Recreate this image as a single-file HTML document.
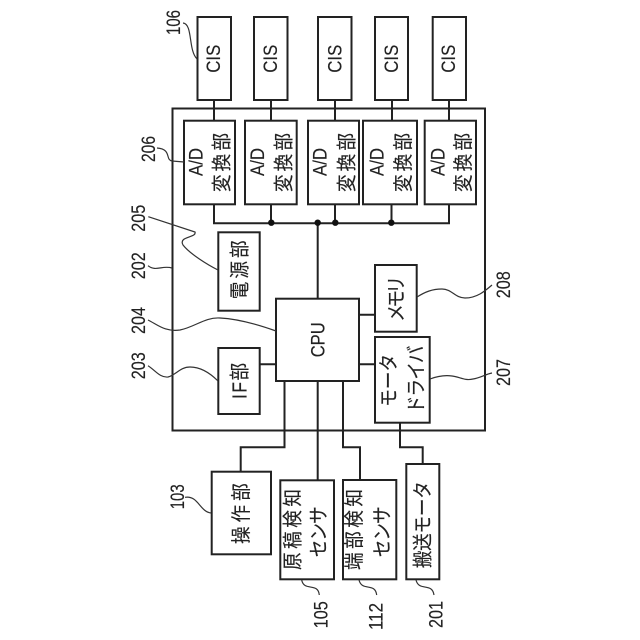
<!DOCTYPE html>
<html><head><meta charset="utf-8"><style>
html,body{margin:0;padding:0;background:#fff;width:640px;height:640px;overflow:hidden}
svg{display:block}
text{font-family:"Liberation Sans","Noto Sans CJK JP",sans-serif;fill:#222;stroke:#222;stroke-width:.15;font-size:19.5px}
.j{font-size:20px}
rect,.l{fill:none;stroke:#222;stroke-width:2}
.w{fill:none;stroke:#333;stroke-width:1.2}
</style></head><body>
<svg width="640" height="640" viewBox="0 0 640 640" xmlns="http://www.w3.org/2000/svg">
<rect x="172.5" y="108.5" width="312.5" height="322"/>
<rect x="197.5" y="17" width="33.5" height="83"/>
<rect x="254" y="17" width="33.5" height="83"/>
<rect x="318" y="17" width="33.5" height="83"/>
<rect x="375" y="17" width="33" height="83"/>
<rect x="432.7" y="17" width="33.3" height="83"/>
<rect x="184" y="120.7" width="51" height="83.6"/>
<rect x="245" y="120.7" width="51.7" height="83.6"/>
<rect x="308" y="120.7" width="51" height="83.6"/>
<rect x="363" y="120.7" width="54" height="83.6"/>
<rect x="424.7" y="120.7" width="51.3" height="83.6"/>
<rect x="276" y="298.7" width="83" height="82.3"/>
<rect x="218.3" y="232.3" width="41.4" height="78.4"/>
<rect x="218.3" y="348" width="41.4" height="66"/>
<rect x="375" y="265" width="41.7" height="66.7"/>
<rect x="375" y="337" width="54.7" height="85.7"/>
<rect x="211.7" y="471.7" width="59.3" height="82.6"/>
<rect x="280.3" y="480.3" width="53.7" height="99"/>
<rect x="343" y="480" width="53.3" height="99.3"/>
<rect x="406.3" y="464" width="33" height="115.3"/>
<path class="l" d="M214 100V120.7M271 100V120.7M335 100V120.7M392 100V120.7M449 100V120.7
M214 204.3V223.3H449V204.3M271 204.3V223.3M335 204.3V223.3M391.5 204.3V223.3
M317.7 223.3V298.7M359 314.7H375M359 364.3H375M259.7 364.3H276
M284.5 381V447.3H240.7V471.7M317.7 381V480.3M343 381V447.3H360V480M400 422.7V447.3H422.7V464"/>
<g fill="#111"><circle cx="271.3" cy="222.7" r="3.2"/><circle cx="317.7" cy="222.7" r="3.2"/><circle cx="335.3" cy="222.7" r="3.2"/><circle cx="391.3" cy="222.7" r="3.2"/></g>
<path class="w" d="M183 23C193 24 188 50 197 59"/>
<path class="w" d="M157 148C172 149 165 160 172 161L184 162"/>
<path class="w" d="M148.3 216.7L195 232C197 238 178 236 183 245C190 254 208 265 218 270"/>
<path class="w" d="M148 265.7C156 272 162 265 172 268"/>
<path class="w" d="M148 320C158 325 165 332 180 330C195 327 205 317 220 318C240 319 262 326 276 331"/>
<path class="w" d="M148 365.7C155 370 160 378 168 377C176 375 180 367 190 367C202 367 212 375 218 381"/>
<path class="w" d="M417 297C425 292 432 289 442 289C452 289 455 298 465 298C477 298 485 291 492 285"/>
<path class="w" d="M430 379C438 376 445 375 452 376C460 377 465 381 473 379C480 378 486 374 492 373"/>
<path class="w" d="M185 497.3C198 495 200 512 211 513"/>
<path class="w" d="M301.7 580C304 592 318 582 319.3 595"/>
<path class="w" d="M359 580C362 592 375 582 376.7 595"/>
<path class="w" d="M416 580C419 592 432 582 434 595"/>

<g>
<text transform="translate(220,72.7) rotate(-90)" textLength="28" lengthAdjust="spacingAndGlyphs">CIS</text>
<text transform="translate(277,72.7) rotate(-90)" textLength="28" lengthAdjust="spacingAndGlyphs">CIS</text>
<text transform="translate(341.7,72.7) rotate(-90)" textLength="28" lengthAdjust="spacingAndGlyphs">CIS</text>
<text transform="translate(398,72.7) rotate(-90)" textLength="28" lengthAdjust="spacingAndGlyphs">CIS</text>
<text transform="translate(455,72.7) rotate(-90)" textLength="28" lengthAdjust="spacingAndGlyphs">CIS</text>

<text transform="translate(202.7,176) rotate(-90)" textLength="28" lengthAdjust="spacingAndGlyphs">A/D</text>
<text transform="translate(264,176) rotate(-90)" textLength="28" lengthAdjust="spacingAndGlyphs">A/D</text>
<text transform="translate(326.7,176) rotate(-90)" textLength="28" lengthAdjust="spacingAndGlyphs">A/D</text>
<text transform="translate(383.3,176) rotate(-90)" textLength="28" lengthAdjust="spacingAndGlyphs">A/D</text>
<text transform="translate(444.3,176) rotate(-90)" textLength="28" lengthAdjust="spacingAndGlyphs">A/D</text>

<text class="j" transform="translate(228.7,192) rotate(-90) scale(.88,1)" textLength="67">変換部</text>
<text class="j" transform="translate(290.5,192) rotate(-90) scale(.88,1)" textLength="67">変換部</text>
<text class="j" transform="translate(353.5,192) rotate(-90) scale(.88,1)" textLength="67">変換部</text>
<text class="j" transform="translate(410.2,192) rotate(-90) scale(.88,1)" textLength="67">変換部</text>
<text class="j" transform="translate(470.2,192) rotate(-90) scale(.88,1)" textLength="67">変換部</text>

<text class="j" transform="translate(246.3,299.3) rotate(-90) scale(.88,1)" textLength="67">電源部</text>
<text class="j" transform="translate(246.5,399) rotate(-90) scale(.88,1)" textLength="41">IF部</text>
<text transform="translate(324.3,357.3) rotate(-90)" textLength="35" lengthAdjust="spacingAndGlyphs">CPU</text>
<text class="j" transform="translate(403,321.7) rotate(-90) scale(.88,1)" textLength="52">メモリ</text>
<text class="j" transform="translate(395.5,406.7) rotate(-90) scale(.88,1)" textLength="60">モータ</text>
<text class="j" transform="translate(423,413.3) rotate(-90) scale(.88,1)" textLength="77">ドライバ</text>
<text class="j" transform="translate(248,544) rotate(-90) scale(.88,1)" textLength="69">操作部</text>
<text class="j" transform="translate(299.5,570) rotate(-90) scale(.88,1)" textLength="92">原稿検知</text>
<text class="j" transform="translate(325.5,557.3) rotate(-90) scale(.88,1)" textLength="58">センサ</text>
<text class="j" transform="translate(361,570) rotate(-90) scale(.88,1)" textLength="92">端部検知</text>
<text class="j" transform="translate(389,557.3) rotate(-90) scale(.88,1)" textLength="58">センサ</text>
<text class="j" transform="translate(429.5,568.3) rotate(-90) scale(.88,1)" textLength="99">搬送モータ</text>

<text transform="translate(180,35) rotate(-90)" textLength="25" lengthAdjust="spacingAndGlyphs">106</text>
<text transform="translate(155,162) rotate(-90)" textLength="26" lengthAdjust="spacingAndGlyphs">206</text>
<text transform="translate(145,231.7) rotate(-90)" textLength="27" lengthAdjust="spacingAndGlyphs">205</text>
<text transform="translate(145,279.3) rotate(-90)" textLength="27" lengthAdjust="spacingAndGlyphs">202</text>
<text transform="translate(145,334) rotate(-90)" textLength="27" lengthAdjust="spacingAndGlyphs">204</text>
<text transform="translate(145,379.3) rotate(-90)" textLength="27" lengthAdjust="spacingAndGlyphs">203</text>
<text transform="translate(510,298.3) rotate(-90)" textLength="27" lengthAdjust="spacingAndGlyphs">208</text>
<text transform="translate(510,386) rotate(-90)" textLength="27" lengthAdjust="spacingAndGlyphs">207</text>
<text transform="translate(184,509.3) rotate(-90)" textLength="25" lengthAdjust="spacingAndGlyphs">103</text>
<text transform="translate(327.3,628.3) rotate(-90)" textLength="27" lengthAdjust="spacingAndGlyphs">105</text>
<text transform="translate(382.3,630) rotate(-90)" textLength="27" lengthAdjust="spacingAndGlyphs">112</text>
<text transform="translate(442.7,628) rotate(-90)" textLength="27" lengthAdjust="spacingAndGlyphs">201</text>
</g>
</svg>
</body></html>
